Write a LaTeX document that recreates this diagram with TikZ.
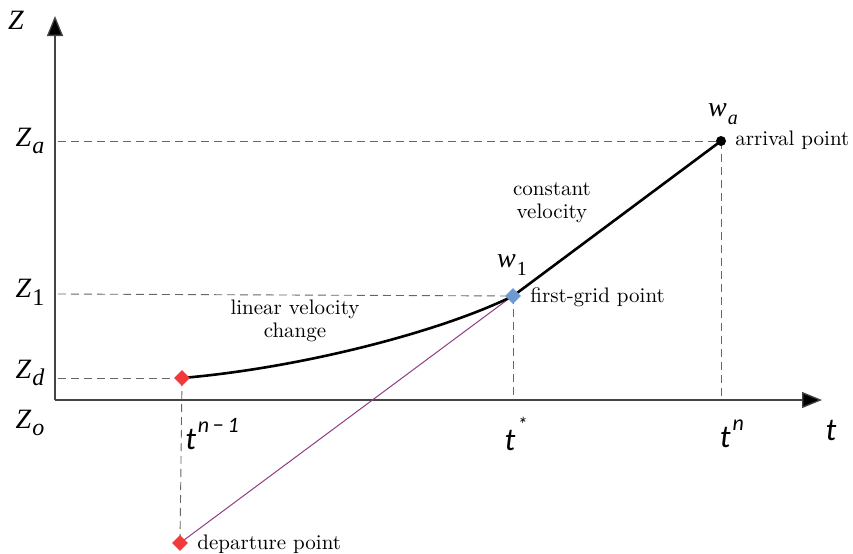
\documentclass[tikz,border=0pt]{standalone}
\usepackage{fontspec}
\newfontfamily\tfont{Carlito}
\newfontfamily\zfont{Liberation Serif}
\usetikzlibrary{arrows.meta,shapes.geometric}
\definecolor{redpt}{HTML}{F23A3A}
\definecolor{bluept}{HTML}{6E9AD2}
\definecolor{purpleln}{HTML}{8E3C84}
\definecolor{axisgray}{HTML}{444444}
\begin{document}
\begin{tikzpicture}[x=0.5pt,y=-0.5pt,
  axis/.style={draw=axisgray, line width=0.65pt},
  guide/.style={draw=black!60, dashed, dash pattern=on 4pt off 2.5pt, line width=0.45pt},
  dia/.style={diamond, inner sep=0pt, minimum size=8pt},
  zlab/.style={font=\zfont\itshape\fontsize{14}{16}\selectfont, inner sep=0pt},
  tlab/.style={font=\tfont\itshape\fontsize{16}{18}\selectfont, inner sep=0pt},
  note/.style={font=\fontsize{10.5}{11.5}\selectfont, align=center, inner sep=0pt}]
\useasboundingbox (0,0) rectangle (853,553);
% key coordinates
\coordinate (O) at (55,400);
\coordinate (ytop) at (55,16);
\coordinate (xend) at (822,400);
\coordinate (pd) at (182,378);
\coordinate (pdep) at (180,543);
\coordinate (pf) at (513,296);
\coordinate (pa) at (721,141);
\coordinate (za0) at (58,141);
\coordinate (z10) at (58,294);
\coordinate (zd0) at (58,378);
\coordinate (tf0) at (513,400);
\coordinate (ta0) at (721,400);
% axes
\draw[axis, -{Triangle[length=10pt,width=8pt,fill=black]}] (O) -- (ytop);
\draw[axis, -{Triangle[length=10pt,width=8pt,fill=black]}] (O) -- (xend);
% guides
\draw[guide] (za0) -- (pa);
\draw[guide] (z10) -- (pf);
\draw[guide] (zd0) -- (pd);
\draw[guide] (pd) -- (pdep);
\draw[guide] (pf) -- (tf0);
\draw[guide] (pa) -- (ta0);
% trajectory
\draw[purpleln, line width=0.5pt] (pdep) -- (pa);
\draw[black, line width=1.3pt] (pd) .. controls (300,368) and (440,332) .. (pf) -- (pa);
% points
\node[dia, fill=redpt] (nd) at (pd) {};
\node[dia, fill=redpt] (ndep) at (pdep) {};
\node[dia, fill=bluept] (nf) at (pf) {};
\node[circle, fill=black, inner sep=0pt, minimum size=5pt] (na) at (pa) {};
% axis labels
\node[zlab] (lz) at (16,20) {Z};
\node[zlab] (lza) at (30,141) {Z\raisebox{-0.6ex}{\fontsize{12}{14}\selectfont\kern0.5pt a}};
\node[zlab] (lz1) at (30,292) {Z\raisebox{-0.6ex}{\fontsize{12}{14}\selectfont\upshape\kern0.5pt 1}};
\node[zlab] (lzd) at (30,373) {Z\raisebox{-0.6ex}{\fontsize{12}{14}\selectfont\kern0.5pt d}};
\node[zlab] (lzo) at (30,423) {Z\raisebox{-0.6ex}{\fontsize{12}{14}\selectfont\kern0.5pt o}};
\node[tlab] (ltn1) at (212,434) {t\raisebox{1.1ex}{\fontsize{11}{13}\selectfont\kern1pt n\,{\upshape\textminus}\,1}};
\node[tlab] (lts) at (516,434) {t\raisebox{1.3ex}{\fontsize{10}{12}\selectfont\kern1pt *}};
\node[tlab] (ltn) at (732,434) {t\raisebox{1.1ex}{\fontsize{11}{13}\selectfont\kern1pt n}};
\node[tlab] (lt) at (831,430) {t};
\node[zlab] (lw1) at (512,265) {w\raisebox{-0.6ex}{\fontsize{10}{12}\selectfont\upshape\kern0.5pt 1}};
\node[zlab] (lwa) at (723,114) {w\raisebox{-0.6ex}{\fontsize{10}{12}\selectfont\kern0.5pt a}};
% notes
\node[note, anchor=west] (larr) at (735,140) {arrival point};
\node[note, anchor=west] (lfg) at (530,297) {first-grid point};
\node[note, anchor=west] (ldep) at (197,544) {departure point};
\node[note] (lcv) at (552,203) {constant\\velocity};
\node[note] (llv) at (295,321) {linear velocity\\change};
\end{tikzpicture}
\end{document}
